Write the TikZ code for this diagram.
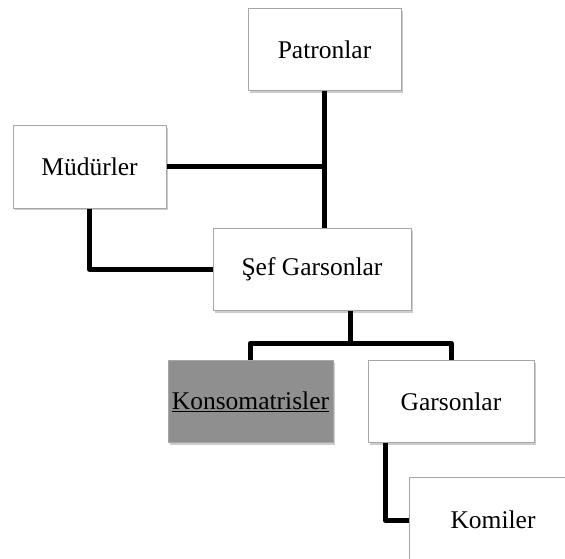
\documentclass[tikz,border=0pt]{standalone}
\usepackage{fontspec}
\setmainfont{Liberation Serif}
\usetikzlibrary{shadows}
\tikzset{
  kutu/.style={draw=black!35, line width=1pt, fill=white, minimum height=82pt, font=\fontsize{25.5}{29}\selectfont, drop shadow={shadow xshift=1.5pt, shadow yshift=-2pt, opacity=0.4}},
  hat/.style={line width=5pt, line join=round}
}
\begin{document}
\begin{tikzpicture}[x=1pt,y=-1pt]
            \useasboundingbox (0,0) rectangle (565,559);
            \clip (0,0) rectangle (565,559); %Komiler box runs off the page
            \node[kutu, minimum width=153pt] (patron) at (324.5,50) {Patronlar};
            \node[kutu, minimum width=153pt] (mudur) at (89.5,167) {Müdürler};
            \node[kutu, minimum width=198pt] (sef) at (312,269.5) {Şef Garsonlar};
            \node[kutu, minimum width=165pt, inner sep=1pt, fill=black!44] (kons) at (250.5,401.5) {\underline{Konsomatrisler}};
            \node[kutu, minimum width=166pt] (garson) at (451,401.5) {Garsonlar};
            \node[kutu, minimum width=168pt, minimum height=86pt] (komi) at (493,520) {Komiler};
            \coordinate (sefalt) at (350,343);
            \coordinate (garalt) at (385,519);
            \draw[hat] (patron.south) -- (patron.south |- sef.north);
            \draw[hat] (mudur.east) -- (patron.south |- mudur.east);
            \draw[hat] (mudur.south) |- (sef.west);
            \draw[hat] (sef.south -| sefalt) -- (sefalt);
            \draw[hat] (kons.north) |- (sefalt) -| (garson.north);
            \draw[hat] (garson.south -| garalt) |- (komi.west);
      \end{tikzpicture}
\end{document}
